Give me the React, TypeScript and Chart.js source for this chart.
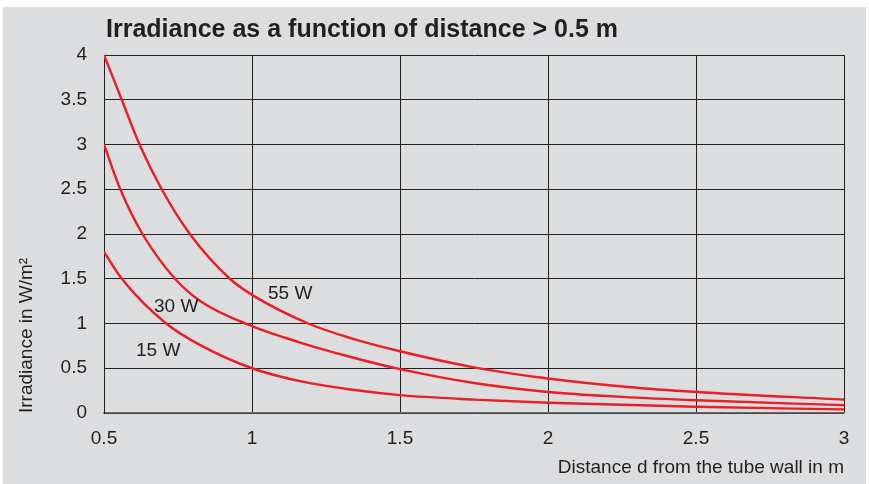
import React, { useEffect, useRef } from "react";
import { Chart, registerables } from "chart.js";

Chart.register(...registerables);

// ---- data ----
const chartTitle = "Irradiance as a function of distance > 0.5 m";
const xAxisTitle = "Distance d from the tube wall in m";
const yAxisTitle = "Irradiance in W/m²";

const xTickValues = [0.5, 1, 1.5, 2, 2.5, 3];
const yTickValues = [0, 0.5, 1, 1.5, 2, 2.5, 3, 3.5, 4];

const dist55 = [0.5, 0.56, 0.62, 0.695, 0.79, 0.925, 1.0, 1.19, 1.33, 1.5, 1.75, 2.0, 2.27, 2.5, 3.0];
const irr55 = [4.0, 3.5, 3.0, 2.5, 2.0, 1.5, 1.32, 1.0, 0.84, 0.69, 0.51, 0.385, 0.29, 0.235, 0.15];

const dist30 = [0.5, 0.555, 0.63, 0.74, 0.83, 1.0, 1.16, 1.34, 1.5, 1.75, 2.0, 2.25, 2.5, 3.0];
const irr30 = [3.0, 2.5, 2.0, 1.5, 1.24, 0.97, 0.79, 0.62, 0.49, 0.335, 0.235, 0.18, 0.142, 0.088];

const dist15 = [0.5, 0.56, 0.71, 0.83, 1.0, 1.17, 1.34, 1.5, 1.75, 2.0, 2.5, 3.0];
const irr15 = [1.8, 1.5, 1.0, 0.75, 0.5, 0.35, 0.26, 0.2, 0.15, 0.115, 0.07, 0.04];

const seriesNames = ["55 W", "30 W", "15 W"];
// label anchors in data coordinates (distance, irradiance)
const labelDist = [1.054, 0.669, 0.608];
const labelIrr = [1.337, 1.19, 0.7];

const FONT = '"Liberation Sans", Arial, Helvetica, sans-serif';
const TEXT = "#231f20";
const RED = "#ee1c25";
const BG = "rgb(220,221,223)";

function toPoints(xs: number[], ys: number[]) {
  return xs.map((x, i) => ({ x, y: ys[i] }));
}

export default function App() {
  const ref = useRef<HTMLCanvasElement | null>(null);

  useEffect(() => {
    document.body.style.margin = "0";
    const canvas = ref.current;
    if (!canvas) return;

    const decor = {
      id: "decor",
      beforeDraw(chart: any) {
        const ctx = chart.ctx;
        ctx.save();
        ctx.fillStyle = "#ffffff";
        ctx.fillRect(0, 0, chart.width, chart.height);
        ctx.fillStyle = BG;
        ctx.fillRect(3, 7, 863, chart.height - 7);
        ctx.restore();
      },
      afterDraw(chart: any) {
        const ctx = chart.ctx;
        const xs = chart.scales.x;
        const ys = chart.scales.y;
        ctx.save();
        ctx.fillStyle = TEXT;
        ctx.font = `bold 25px ${FONT}`;
        ctx.textAlign = "left";
        ctx.textBaseline = "alphabetic";
        ctx.fillText(chartTitle, 106, 37);
        ctx.font = `19px ${FONT}`;
        ctx.textBaseline = "middle";
        seriesNames.forEach((name, i) => {
          ctx.fillText(name, xs.getPixelForValue(labelDist[i]), ys.getPixelForValue(labelIrr[i]));
        });
        ctx.restore();
      },
    };

    const dsCommon = {
      borderColor: RED,
      borderWidth: 2.4,
      pointRadius: 0,
      fill: false,
      cubicInterpolationMode: "monotone" as const,
    };

    const chart = new Chart(canvas, {
      type: "line",
      data: {
        datasets: [
          { ...dsCommon, label: seriesNames[0], data: toPoints(dist55, irr55) },
          { ...dsCommon, label: seriesNames[1], data: toPoints(dist30, irr30) },
          { ...dsCommon, label: seriesNames[2], data: toPoints(dist15, irr15) },
        ],
      },
      options: {
        responsive: false,
        animation: false,
        devicePixelRatio: 1,
        layout: { padding: { left: 0, right: 25, top: 55, bottom: 0 } },
        plugins: {
          legend: { display: false },
          title: { display: false },
          tooltip: { enabled: false },
        },
        scales: {
          x: {
            type: "linear",
            min: xTickValues[0],
            max: xTickValues[xTickValues.length - 1],
            afterBuildTicks: (s: any) => {
              s.ticks = xTickValues.map((v) => ({ value: v }));
            },
            afterFit: (s: any) => {
              s.height = 71;
            },
            grid: { color: "#222", lineWidth: 1, drawTicks: false },
            border: { display: true, color: "#6a6a6a", width: 1.5 },
            ticks: {
              padding: 14,
              color: TEXT,
              font: { family: FONT, size: 19 },
              maxRotation: 0,
              callback: (v: any) => String(v),
            },
            title: {
              display: true,
              text: xAxisTitle,
              align: "end",
              color: TEXT,
              font: { family: FONT, size: 19 },
              padding: { top: 0, bottom: 5 },
            },
          },
          y: {
            type: "linear",
            min: yTickValues[0],
            max: yTickValues[yTickValues.length - 1],
            afterBuildTicks: (s: any) => {
              s.ticks = yTickValues.map((v) => ({ value: v }));
            },
            afterFit: (s: any) => {
              s.width = 104;
            },
            grid: { color: "#222", lineWidth: 1, drawTicks: false },
            border: { display: true, color: "#222", width: 1 },
            ticks: {
              padding: 17,
              color: TEXT,
              font: { family: FONT, size: 19 },
              callback: (v: any) => String(v),
            },
            title: {
              display: true,
              text: yAxisTitle,
              align: "start",
              color: TEXT,
              font: { family: FONT, size: 19 },
              padding: { top: 15, bottom: 0 },
            },
          },
        },
      },
      plugins: [decor],
    });

    return () => chart.destroy();
  }, []);

  return (
    <div style={{ width: 869, height: 484 }}>
      <canvas ref={ref} width={869} height={484} style={{ display: "block" }} />
    </div>
  );
}
